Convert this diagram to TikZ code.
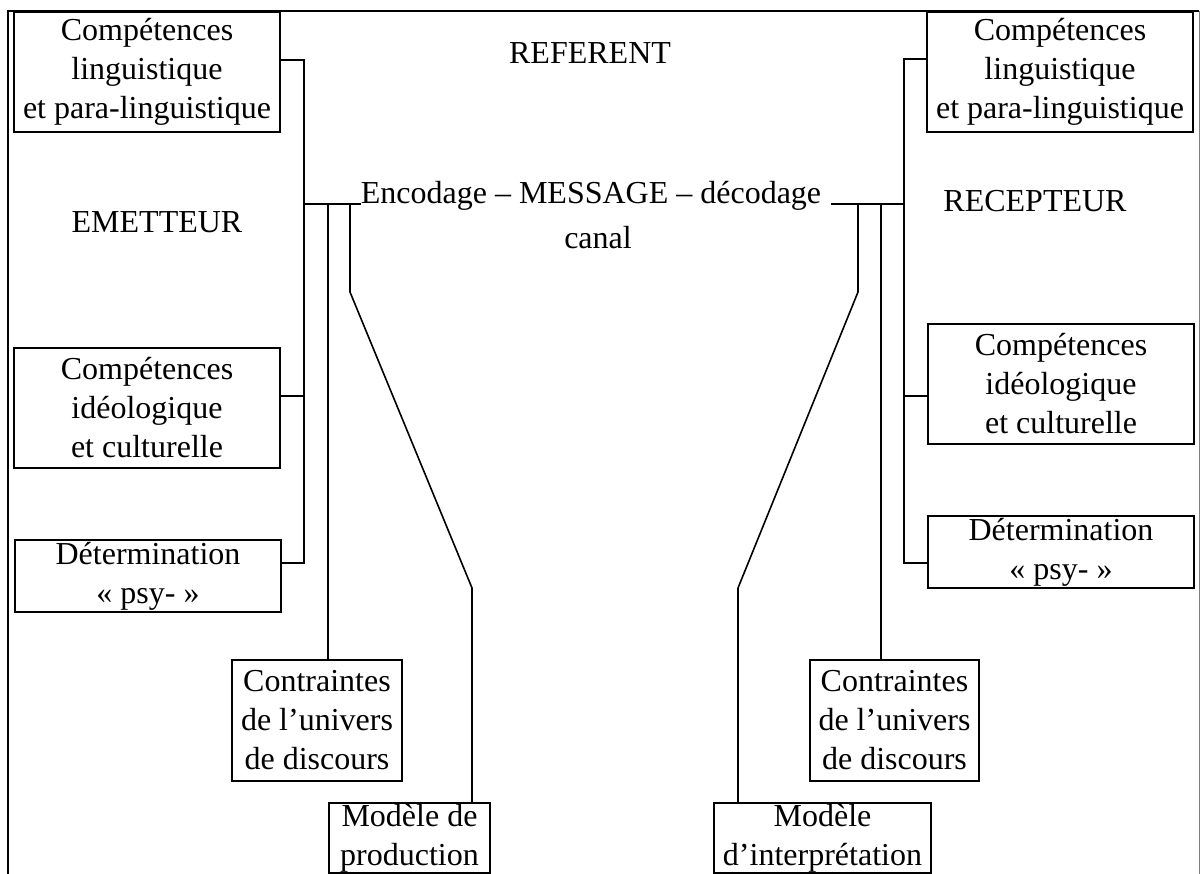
\documentclass[tikz,border=0pt]{standalone}
\usepackage{fontspec}
\setmainfont{Liberation Serif}
\usepackage{tikz}

\tikzset{
    box/.style={draw, line width=1.6pt, align=center, inner sep=0pt, font=\fontsize{32}{39}\selectfont},
    lbl/.style={inner sep=0pt, align=center, font=\fontsize{32}{39}\selectfont},
    link/.style={line width=1.6pt}
}

\begin{document}
\begin{tikzpicture}[x=1pt, y=-1pt]
    \useasboundingbox (0,0) rectangle (1201,874);
    \clip (0,0) rectangle (1201,874);
    % frame
    \draw[line width=1.5pt] (8,874) -- (8,11) -- (1199,11);
    \draw[gray, line width=1pt] (1199,11) -- (1199,874);
    % labels
    \node[lbl] (ref) at (590,53) {REFERENT};
    \node[lbl] (emet) at (157,222) {EMETTEUR};
    \node[lbl] (recep) at (1035,201) {RECEPTEUR};
    \node[lbl, anchor=base] (msg) at (591,204) {Encodage – MESSAGE – décodage};
    \node[lbl] (canal) at (598,238) {canal};
    % emetteur side
    \node[box, minimum width=266pt, minimum height=120pt] (lingE) at (147,72) {Compétences\\linguistique\\et para-linguistique};
    \node[box, minimum width=266pt, minimum height=120pt] (ideoE) at (147,408) {Compétences\\idéologique\\et culturelle};
    \node[box, minimum width=266pt, minimum height=72pt] (detE) at (148,576) {Détermination\\« psy- »};
    \node[box, minimum width=170pt, minimum height=121pt] (contrE) at (317,720.5) {Contraintes\\de l’univers\\de discours};
    \node[box, minimum width=161pt, minimum height=70pt] (modE) at (409.5,838) {Modèle de\\production};
    % recepteur side
    \node[box, minimum width=266pt, minimum height=120pt] (lingR) at (1060,72) {Compétences\\linguistique\\et para-linguistique};
    \node[box, minimum width=266pt, minimum height=120pt] (ideoR) at (1061,384) {Compétences\\idéologique\\et culturelle};
    \node[box, minimum width=266pt, minimum height=72pt] (detR) at (1061,552) {Détermination\\« psy- »};
    \node[box, minimum width=169pt, minimum height=121pt] (contrR) at (894.5,720.5) {Contraintes\\de l’univers\\de discours};
    \node[box, minimum width=217pt, minimum height=70pt] (modR) at (822.5,838) {Modèle\\d’interprétation};
    % junctions
    \coordinate (jE) at (304,204);
    \coordinate (aE) at (328,204);
    \coordinate (bE) at (350,204);
    \coordinate (kE) at (472,588);
    \coordinate (jR) at (904,204);
    \coordinate (aR) at (881,204);
    \coordinate (bR) at (858,204);
    \coordinate (kR) at (738,588);
    % connectors left
    \draw[link] ([yshift=12pt]lingE.east) -| (jE) |- ([yshift=13pt]detE.east);
    \draw[link] ([yshift=12pt]ideoE.east) -- ++(24,0);
    \draw[link] (jE) -- (msg.base west);
    \draw[link] (aE) -- (aE |- contrE.north);
    \draw[link] (bE) -- ++(0,88) -- (kE) -- (kE |- modE.north);
    % connectors right
    \draw[link] ([yshift=13pt]lingR.west) -| (jR) |- ([yshift=-11pt]detR.west);
    \draw[link] ([yshift=-12pt]ideoR.west) -- ++(-24,0);
    \draw[link] (jR) -- ([xshift=10pt]msg.base east);
    \draw[link] (aR) -- (aR |- contrR.north);
    \draw[link] (bR) -- ++(0,88) -- (kR) -- (kR |- modR.north);
\end{tikzpicture}
\end{document}
